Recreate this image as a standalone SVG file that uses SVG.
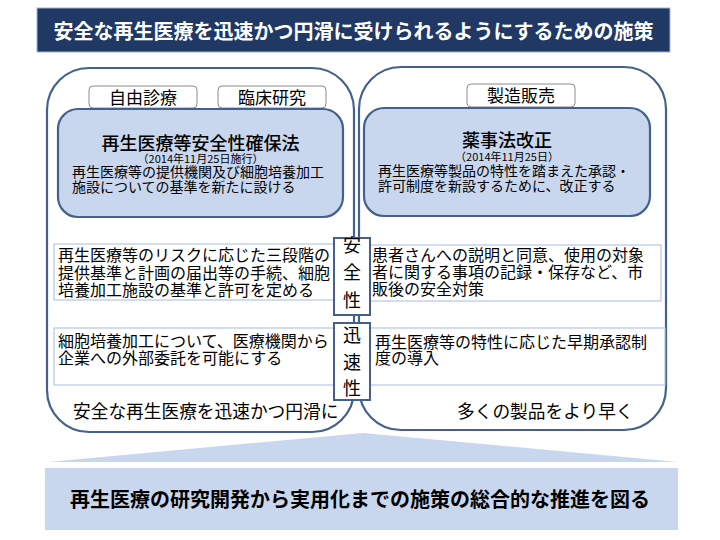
<svg xmlns="http://www.w3.org/2000/svg" width="720" height="540" viewBox="0 0 720 540">
<style>
text{font-family:"Noto Sans CJK JP","Noto Sans CJK SC",sans-serif;fill:#000}
.big{fill:#fff;stroke:#44618E;stroke-width:2.2}
.blue{fill:#C9D7EE;stroke:#44618E;stroke-width:2.2}
.lbl{fill:#fff;stroke:#8C8C8C;stroke-width:1}
.row{fill:#fff;stroke:#B4C7E7;stroke-width:1.2}
.side{fill:#fff;stroke:#44618E;stroke-width:2}
.t17{font-size:17px}
.ttl{font-size:18px;font-weight:500}
.date{font-size:11px}
.b14{font-size:14px}
.r16{font-size:16px}
.s18{font-size:18px}
.foot{font-size:17.7px}
</style>
<rect width="720" height="540" fill="#fff"/>
<g id="title">
<rect x="37" y="8" width="633" height="44" fill="#203864" stroke="#A6B4CC" stroke-width="1"/>
<text x="353.5" y="38.5" text-anchor="middle" font-size="20" font-weight="bold" style="fill:#fff">安全な再生医療を迅速かつ円滑に受けられるようにするための施策</text>
</g>
<g id="left-panel">
<rect class="big" x="47" y="68" width="307" height="364" rx="42" ry="42"/>
</g>
<g id="right-panel">
<rect class="big" x="359" y="67" width="307" height="363" rx="42" ry="42"/>
</g>
<g id="label-jiyu">
<rect class="lbl" x="89" y="86" width="108" height="22" rx="4"/>
<text class="t17" x="143" y="103.5" text-anchor="middle">自由診療</text>
</g>
<g id="label-rinsho">
<rect class="lbl" x="218" y="86" width="108" height="22" rx="4"/>
<text class="t17" x="272" y="103.5" text-anchor="middle">臨床研究</text>
</g>
<g id="label-seizo">
<rect class="lbl" x="467" y="84" width="108" height="23" rx="4"/>
<text class="t17" x="521" y="102" text-anchor="middle">製造販売</text>
</g>
<g id="law-left">
<rect class="blue" x="58" y="109" width="285" height="108" rx="20" ry="20"/>
<text class="ttl" x="200.5" y="150" text-anchor="middle">再生医療等安全性確保法</text>
<text class="date" x="200.5" y="163" text-anchor="middle">（2014年11月25日施行）</text>
<text class="b14" x="72" y="176.5">再生医療等の提供機関及び細胞培養加工</text>
<text class="b14" x="72" y="191.5">施設についての基準を新たに設ける</text>
</g>
<g id="law-right">
<rect class="blue" x="364" y="108" width="286" height="108" rx="20" ry="20"/>
<text class="ttl" x="507" y="147" text-anchor="middle">薬事法改正</text>
<text class="date" x="507" y="161" text-anchor="middle">（2014年11月25日）</text>
<text class="b14" x="378" y="175.5">再生医療等製品の特性を踏まえた承認・</text>
<text class="b14" x="378" y="190.5">許可制度を新設するために、改正する</text>
</g>
<g id="row-safety-left">
<rect class="row" x="54" y="244" width="292" height="56"/>
<text class="r16" x="58" y="261">再生医療等のリスクに応じた三段階の</text>
<text class="r16" x="58" y="278.5">提供基準と計画の届出等の手続、細胞</text>
<text class="r16" x="58" y="296">培養加工施設の基準と許可を定める</text>
</g>
<g id="row-safety-right">
<rect class="row" x="362" y="245" width="299" height="56"/>
<text class="r16" x="372" y="261">患者さんへの説明と同意、使用の対象</text>
<text class="r16" x="372" y="278">者に関する事項の記録・保存など、市</text>
<text class="r16" x="372" y="295">販後の安全対策</text>
</g>
<g id="row-speed-left">
<rect class="row" x="54" y="328" width="292" height="57"/>
<text class="r16" x="58" y="347">細胞培養加工について、医療機関から</text>
<text class="r16" x="58" y="364">企業への外部委託を可能にする</text>
</g>
<g id="row-speed-right">
<rect class="row" x="362" y="328" width="303" height="57"/>
<text class="r16" x="375" y="348">再生医療等の特性に応じた早期承認制</text>
<text class="r16" x="375" y="364">度の導入</text>
</g>
<g id="safety">
<rect class="side" x="334" y="238" width="36" height="77"/>
<text class="s18" x="352" y="252" text-anchor="middle">安</text>
<text class="s18" x="352" y="279" text-anchor="middle">全</text>
<text class="s18" x="352" y="307" text-anchor="middle">性</text>
</g>
<g id="speed">
<rect class="side" x="334" y="323" width="36" height="77"/>
<text class="s18" x="352" y="342" text-anchor="middle">迅</text>
<text class="s18" x="352" y="368.5" text-anchor="middle">速</text>
<text class="s18" x="352" y="395" text-anchor="middle">性</text>
</g>
<g id="caption-left">
<text class="foot" x="73" y="418">安全な再生医療を迅速かつ円滑に</text>
</g>
<g id="caption-right">
<text class="foot" x="457" y="418">多くの製品をより早く</text>
</g>
<g id="connectors">
<polygon points="363,433 48,462 678,462" fill="#C9D7EE"/>
</g>
<g id="summary">
<rect x="45" y="468" width="633" height="62" fill="#C9D7EE"/>
<text x="360" y="507" text-anchor="middle" font-size="20" font-weight="bold">再生医療の研究開発から実用化までの施策の総合的な推進を図る</text>
</g>
</svg>
